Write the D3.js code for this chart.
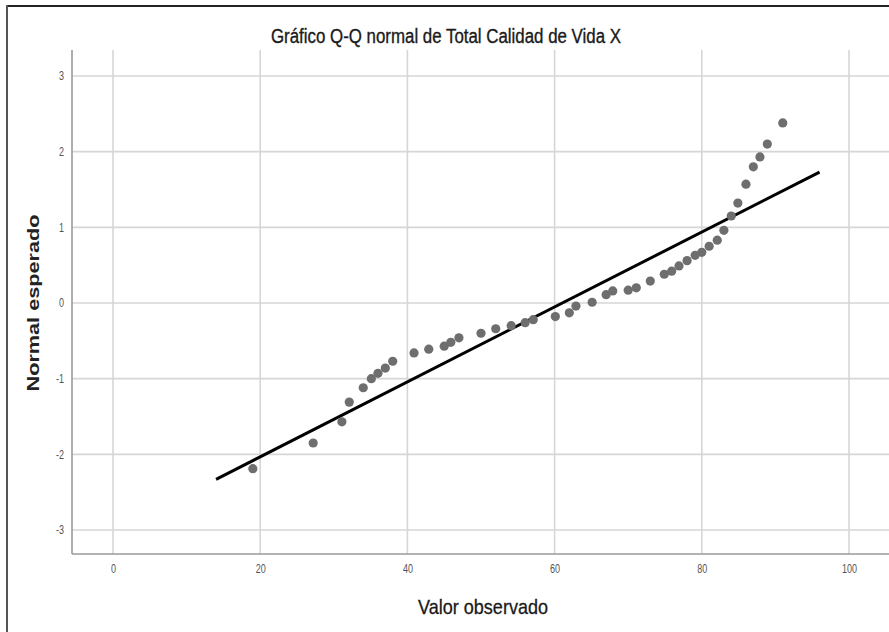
<!DOCTYPE html>
<html><head><meta charset="utf-8">
<script src="https://cdn.jsdelivr.net/npm/d3@7"></script>
<style>body{margin:0;background:#fff}svg{display:block}</style>
</head><body>
<svg id="c" width="889" height="632"></svg>
<script>
const observed = [19,27.2,31.1,32.1,34,35.1,36,37,38,40.9,42.9,45,45.9,47,50,52,54.1,56,57.1,60.1,62,62.9,65.1,67,67.9,70,71.1,73,74.9,75.9,76.9,78,79.1,80,81,82.1,83,84,84.9,86,87,87.9,88.9,91];
const expected = [-2.19,-1.85,-1.57,-1.31,-1.12,-1.0,-0.93,-0.86,-0.77,-0.66,-0.61,-0.57,-0.52,-0.46,-0.40,-0.34,-0.30,-0.26,-0.22,-0.18,-0.13,-0.04,0.01,0.11,0.16,0.17,0.20,0.29,0.38,0.42,0.49,0.56,0.63,0.67,0.75,0.83,0.96,1.15,1.32,1.57,1.80,1.93,2.10,2.38];
const refLineX = [14, 96];
const refLineY = [-2.33, 1.73];
const xTicks = [0,20,40,60,80,100];
const yTicks = [-3,-2,-1,0,1,2,3];
const titleText = "Gráfico Q-Q normal de Total Calidad de Vida X";
const xTitle = "Valor observado";
const yTitle = "Normal esperado";

const svg = d3.select("#c");
const x = d3.scaleLinear().domain([0,100]).range([113,849]);
const y = d3.scaleLinear().domain([-3,3]).range([530,76]);
const pL = 72, pR = 889, pT = 50, pB = 554;
const FONT = "'Liberation Sans Narrow','Arial Narrow','Liberation Sans',Arial,sans-serif";

// outer frame (top and left visible)
svg.append("line").attr("x1",6).attr("x2",889).attr("y1",6).attr("y2",6).attr("stroke","#222").attr("stroke-width",2);
svg.append("line").attr("x1",7).attr("x2",7).attr("y1",5).attr("y2",632).attr("stroke","#555").attr("stroke-width",2);

// grid
svg.append("g").selectAll("line").data(xTicks).join("line")
  .attr("x1",d=>x(d)).attr("x2",d=>x(d)).attr("y1",pT).attr("y2",pB)
  .attr("stroke","#d6d6d6").attr("stroke-width",1.6);
svg.append("g").selectAll("line").data(yTicks).join("line")
  .attr("x1",pL).attr("x2",pR).attr("y1",d=>y(d)).attr("y2",d=>y(d))
  .attr("stroke","#d6d6d6").attr("stroke-width",1.6);

function condense(sel, ratio){
  sel.each(function(){
    const l = this.getComputedTextLength();
    d3.select(this).attr("textLength", l*ratio).attr("lengthAdjust","spacingAndGlyphs");
  });
}

// axes
const xAxis = d3.axisBottom(x).tickValues(xTicks).tickFormat(d=>String(d)).tickSize(0).tickPadding(10);
const gx = svg.append("g").attr("transform",`translate(0,${pB})`).call(xAxis);
gx.select(".domain").remove();
gx.selectAll("text").attr("fill","#555").style("font-family",FONT).style("font-size","12px");
condense(gx.selectAll("text"),0.75);
const yAxis = d3.axisLeft(y).tickValues(yTicks).tickFormat(d=>String(d)).tickSize(0).tickPadding(8);
const gy = svg.append("g").attr("transform",`translate(${pL},0)`).call(yAxis);
gy.select(".domain").remove();
gy.selectAll("text").attr("fill","#555").style("font-family",FONT).style("font-size","12px");
condense(gy.selectAll("text"),0.75);

svg.append("line").attr("x1",pL).attr("x2",pL).attr("y1",pT).attr("y2",pB).attr("stroke","#9a9a9a").attr("stroke-width",1.6);
svg.append("line").attr("x1",pL).attr("x2",pR).attr("y1",pB).attr("y2",pB).attr("stroke","#9a9a9a").attr("stroke-width",1.6);

// reference line
svg.append("line")
  .attr("x1",x(refLineX[0])).attr("y1",y(refLineY[0]))
  .attr("x2",x(refLineX[1])).attr("y2",y(refLineY[1]))
  .attr("stroke","#000").attr("stroke-width",3);

// points
const pts = observed.map((v,i)=>({v, e: expected[i]}));
svg.append("g").selectAll("circle").data(pts).join("circle")
  .attr("cx",d=>x(d.v)).attr("cy",d=>y(d.e)).attr("r",4.6)
  .attr("fill","#6e6e6e");

svg.append("text").attr("x",446).attr("y",43).attr("text-anchor","middle")
  .style("font-family",FONT).style("font-size","20px").attr("fill","#1a1a1a")
  .attr("stroke","#1a1a1a").attr("stroke-width",0.35)
  .attr("textLength",350).attr("lengthAdjust","spacingAndGlyphs").text(titleText);
svg.append("text").attr("x",483).attr("y",614).attr("text-anchor","middle")
  .style("font-family",FONT).style("font-size","21px").attr("fill","#1a1a1a")
  .attr("stroke","#1a1a1a").attr("stroke-width",0.3)
  .attr("textLength",130).attr("lengthAdjust","spacingAndGlyphs").text(xTitle);
svg.append("text").attr("transform","translate(39,303) rotate(-90)").attr("text-anchor","middle")
  .style("font-family","'Liberation Sans',Arial,sans-serif").style("font-weight","bold").style("font-size","17px").attr("fill","#222")
  .attr("textLength",177).attr("lengthAdjust","spacingAndGlyphs").text(yTitle);
</script>
</body></html>
